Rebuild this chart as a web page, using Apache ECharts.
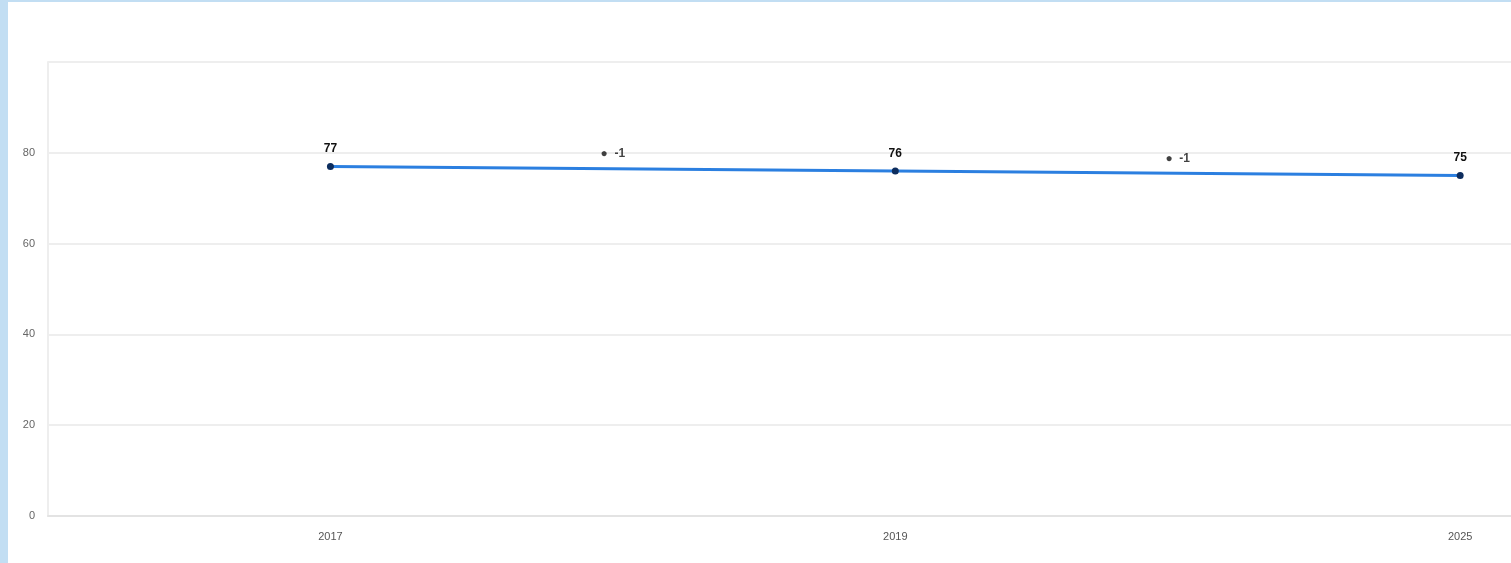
<!DOCTYPE html>
<html>
<head>
<meta charset="utf-8">
<script src="https://cdn.jsdelivr.net/npm/echarts@6/dist/echarts.min.js"></script>
<style>
  html, body { margin: 0; padding: 0; width: 1511px; height: 563px; overflow: hidden; background: #c2def3; }
  #chart { position: absolute; left: 8px; top: 2px; width: 1503px; height: 561px; background: #ffffff; }
</style>
</head>
<body>
<div id="chart"></div>
<script>
// ---- data ----
const years = ['2017', '2019', '2025'];
const values = [77, 76, 75];
const changes = [-1, -1];
const yTickLabels = ['0', '20', '40', '60', '80'];

// positions on the x scale: years at even slots, change markers between them
const lineData = values.map((v, i) => [i * 2, v]);
const changeData = changes.map((c, i) => ({ value: [i * 2 + 1, (values[i] + values[i + 1]) / 2], change: c }));
const xLabels = {};
years.forEach((y, i) => { xLabels[i * 2] = y; });

const chart = echarts.init(document.getElementById('chart'), null, { renderer: 'canvas' });
chart.setOption({
  animation: false,
  backgroundColor: '#ffffff',
  grid: { left: 40, right: 0, top: 60, bottom: 47, containLabel: false },
  xAxis: {
    type: 'value',
    min: -1,
    max: 4.18,
    interval: 1,
    axisLine: { show: true, onZero: false, lineStyle: { color: '#e3e3e3', width: 2 } },
    axisTick: { show: false },
    splitLine: { show: false },
    axisLabel: {
      color: '#555555',
      fontSize: 11,
      fontFamily: 'Liberation Sans, Arial, sans-serif',
      margin: 15,
      showMaxLabel: false,
      formatter: v => xLabels[v] || ''
    }
  },
  yAxis: {
    type: 'value',
    min: 0,
    max: 100,
    interval: 20,
    axisLine: { show: true, onZero: false, lineStyle: { color: '#eeeeee', width: 2 } },
    axisTick: { show: false },
    splitLine: { show: true, lineStyle: { color: '#e9e9e9', width: 1.5 } },
    axisLabel: {
      color: '#666666',
      fontSize: 11,
      fontFamily: 'Liberation Sans, Arial, sans-serif',
      margin: 13,
      formatter: v => yTickLabels[v / 20] || ''
    }
  },
  series: [
    {
      type: 'line',
      data: lineData,
      symbol: 'circle',
      symbolSize: 7,
      lineStyle: { color: '#2b7fe0', width: 3 },
      itemStyle: { color: '#0d2d5e' },
      label: {
        show: true,
        position: 'top',
        distance: 8,
        color: '#111111',
        fontSize: 12,
        fontWeight: 'bold',
        fontFamily: 'Liberation Sans, Arial, sans-serif',
        formatter: p => String(p.value[1])
      },
      z: 3
    },
    {
      type: 'scatter',
      data: changeData,
      symbol: 'circle',
      symbolSize: 0,
      label: {
        show: true,
        position: 'inside',
        offset: [0, -15],
        formatter: p => '{d|●}  {t|' + p.data.change + '}',
        rich: {
          d: { color: '#111111', fontSize: 12 },
          t: { color: '#111111', fontSize: 12, fontWeight: 'bold', fontFamily: 'Liberation Sans, Arial, sans-serif' }
        }
      },
      z: 4
    }
  ]
});
</script>
</body>
</html>
